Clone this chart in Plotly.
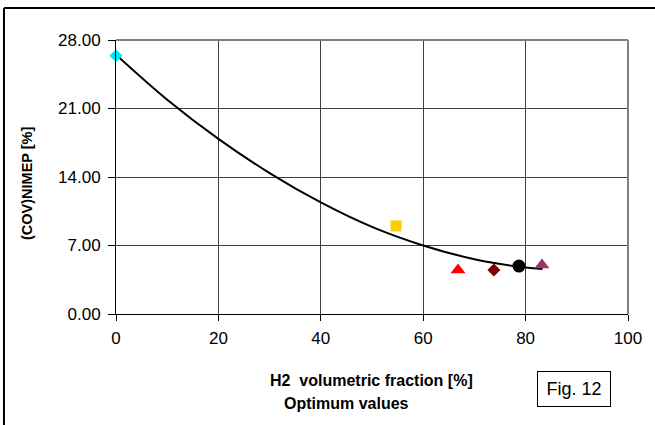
import plotly.graph_objects as go

# Measured points (H2 volumetric fraction [%], COV of NIMEP [%])
pt_x = [0.0, 54.7, 66.8, 73.8, 78.7, 83.2]
pt_y = [26.4, 9.0, 4.5, 4.5, 4.9, 5.0]
pt_symbol = ["diamond", "square", "triangle-up", "diamond", "circle", "triangle-up"]
pt_color = ["#00E5EE", "#FFCC00", "#FF0000", "#800000", "#000000", "#993366"]
pt_size = [10, 11, 13, 10, 13, 13]

# Trend curve
trend_x = [0, 10, 20, 30, 40, 50, 60, 70, 80, 83.3]
trend_y = [26.5, 21.9, 17.9, 14.4, 11.4, 8.9, 7.0, 5.6, 4.75, 4.6]

x_ticks = [0, 20, 40, 60, 80, 100]
y_ticks = [0, 7, 14, 21, 28]
y_tick_text = ["0.00", "7.00", "14.00", "21.00", "28.00"]

fig = go.Figure()
fig.add_trace(go.Scatter(x=trend_x, y=trend_y, mode="lines",
                         line=dict(color="black", width=2, shape="spline"),
                         showlegend=False, hoverinfo="skip"))
for x, y, s, c, sz in zip(pt_x, pt_y, pt_symbol, pt_color, pt_size):
    fig.add_trace(go.Scatter(x=[x], y=[y], mode="markers",
                             marker=dict(symbol=s, color=c, size=sz, line=dict(width=0)),
                             showlegend=False, cliponaxis=False))

font_family = "Liberation Sans, Arial, sans-serif"
fig.update_layout(
    width=655, height=425,
    margin=dict(l=116, r=27, t=40, b=111),
    paper_bgcolor="white", plot_bgcolor="white",
    font=dict(family=font_family, color="black"),
    xaxis=dict(range=[0, 100], tickvals=x_ticks, ticks="outside", ticklen=6,
               tickcolor="black", showline=True, linecolor="black", linewidth=1,
               showgrid=True, gridcolor="#404040", gridwidth=1, zeroline=False,
               tickfont=dict(size=17), ticklabelstandoff=3),
    yaxis=dict(range=[0, 28], tickvals=y_ticks, ticktext=y_tick_text, ticks="outside",
               ticklen=7, tickcolor="black", showline=True, linecolor="black", linewidth=1,
               showgrid=True, gridcolor="#404040", gridwidth=1, zeroline=False,
               tickfont=dict(size=17), ticklabelstandoff=4),
    shapes=[
        dict(type="line", xref="paper", yref="paper", x0=-0.2188, x1=-0.2188, y0=-1.0, y1=1.1168,
             line=dict(color="black", width=2)),
        dict(type="line", xref="paper", yref="paper", x0=-0.2188, x1=1.5, y0=1.1168, y1=1.1168,
             line=dict(color="black", width=2)),
        dict(type="line", xref="paper", yref="paper", x0=1, x1=1, y0=0, y1=1,
             line=dict(color="#808080", width=2)),
        dict(type="line", xref="paper", yref="paper", x0=0, x1=1, y0=1, y1=1,
             line=dict(color="#808080", width=2)),
    ],
    annotations=[
        dict(text="<b>H2&nbsp; volumetric fraction [%]</b>", xref="paper", yref="paper",
             x=(371 - 116) / 512, y=(314 - 380) / 274, showarrow=False,
             font=dict(size=16), xanchor="center", yanchor="middle"),
        dict(text="<b>Optimum values</b>", xref="paper", yref="paper",
             x=(346 - 116) / 512, y=(314 - 403) / 274, showarrow=False,
             font=dict(size=16), xanchor="center", yanchor="middle"),
        dict(text="<b>(COV)NIMEP [%]</b>", xref="paper", yref="paper",
             x=(27 - 116) / 512, y=(314 - 184) / 274, showarrow=False, textangle=-90,
             font=dict(size=14.5), xanchor="center", yanchor="middle"),
        dict(text="Fig. 12", xref="paper", yref="paper",
             x=(574 - 116) / 512, y=(314 - 389) / 274, showarrow=False,
             font=dict(size=18), xanchor="center", yanchor="middle",
             bordercolor="black", borderwidth=1, borderpad=3, bgcolor="white",
             width=66, height=28),
    ],
)
fig.write_html("out.html")
